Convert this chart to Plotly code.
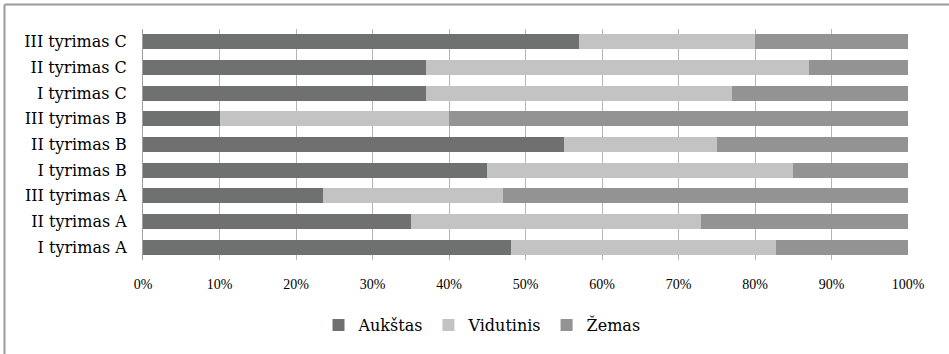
import plotly.graph_objects as go

categories = ["I tyrimas A", "II tyrimas A", "III tyrimas A",
              "I tyrimas B", "II tyrimas B", "III tyrimas B",
              "I tyrimas C", "II tyrimas C", "III tyrimas C"]
aukstas = [48.1, 35.0, 23.5, 45.0, 55.0, 10.0, 37.0, 37.0, 57.0]
vidutinis = [34.6, 38.0, 23.5, 40.0, 20.0, 30.0, 40.0, 50.0, 23.0]
zemas = [17.3, 27.0, 53.0, 15.0, 25.0, 60.0, 23.0, 13.0, 20.0]
x_ticks = [0, 10, 20, 30, 40, 50, 60, 70, 80, 90, 100]
x_tick_labels = [f"{v}%" for v in x_ticks]

series = [("Aukštas", aukstas, "#6e7170"),
          ("Vidutinis", vidutinis, "#c3c3c3"),
          ("Žemas", zemas, "#939393")]

fig = go.Figure()
for name, vals, col in series:
    fig.add_trace(go.Bar(
        y=categories, x=vals, name=name, orientation="h",
        marker=dict(color=col, line=dict(width=0)),
    ))

W, H = 949, 354
ml, mr, mt, mb = 143, 41, 29, 94
pw, ph = W - ml - mr, H - mt - mb

def px_x(p):
    return (p - ml) / pw

def px_y(p):
    return (H - mb - p) / ph

fig.update_layout(
    width=W, height=H,
    margin=dict(l=ml, r=mr, t=mt, b=mb, pad=0),
    barmode="stack",
    bargap=0.42,
    paper_bgcolor="white",
    plot_bgcolor="white",
    font=dict(family="Liberation Serif", size=13, color="#000000"),
    showlegend=True,
    legend=dict(
        orientation="h", x=px_x(482), y=px_y(325), xanchor="center", yanchor="middle",
        font=dict(family="DejaVu Serif", size=16, color="#000000"),
        itemwidth=30, tracegroupgap=0, traceorder="normal",
        bgcolor="rgba(0,0,0,0)",
    ),
    xaxis=dict(
        range=[0, 100], tickvals=x_ticks, ticktext=x_tick_labels,
        showgrid=True, gridcolor="#b5b5b5", gridwidth=1,
        zeroline=False, showline=False, fixedrange=True,
        tickfont=dict(family="Liberation Serif", size=14, color="#000000"),
        ticklabelstandoff=14,
    ),
    yaxis=dict(
        categoryorder="array", categoryarray=categories,
        showgrid=False, zeroline=False,
        showline=True, linecolor="#a0a0a0", linewidth=1,
        tickfont=dict(family="DejaVu Serif", size=16, color="#000000"),
        ticklabelstandoff=12, fixedrange=True,
    ),
    shapes=[
        dict(type="line", xref="paper", yref="paper",
             x0=px_x(4.5), x1=px_x(W + 5), y0=px_y(4.5), y1=px_y(4.5),
             line=dict(color="#9a9a9a", width=2)),
        dict(type="line", xref="paper", yref="paper",
             x0=px_x(4.5), x1=px_x(4.5), y0=px_y(4.5), y1=px_y(H + 5),
             line=dict(color="#9a9a9a", width=2)),
    ],
)

fig.write_html(
    "out.html",
    config={"displayModeBar": False},
    post_script="document.body.style.margin='0';document.body.style.overflow='hidden';",
)
